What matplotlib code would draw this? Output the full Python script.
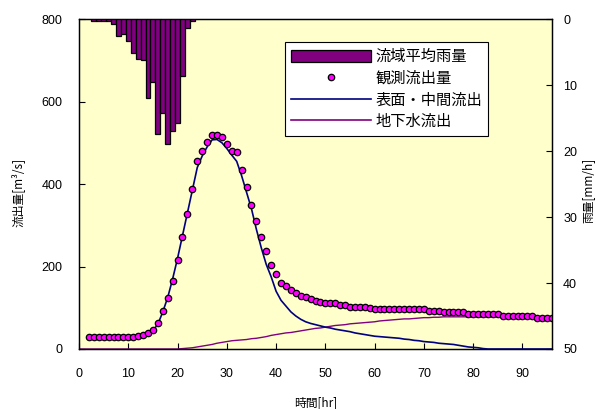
import matplotlib
matplotlib.use("Agg")
import matplotlib.pyplot as plt
import numpy as np
from matplotlib.patches import Patch
from matplotlib.lines import Line2D

jp = ['Noto Sans CJK JP', 'DejaVu Sans']
num = ['Liberation Sans', 'DejaVu Sans']

# 雨量 (mm/h)
rain_hr = list(range(3, 24))
rain = [0.3, 0.3, 0.3, 0.3, 0.8, 2.5, 2.3, 3.4, 5.2, 6.0, 6.2, 11.9, 9.6,
        17.4, 14.2, 19.0, 16.9, 15.8, 8.6, 1.4, 0.3]

# 観測流出量 (m3/s), 2..96 hr
obs_hr = list(range(2, 97))
obs = [29, 29, 29, 29, 29, 29, 29, 29, 29, 29,
       32, 33, 40, 46, 64, 93, 123, 166, 216, 272,
       327, 387, 455, 481, 503, 520, 520, 513, 497, 481,
       478, 435, 393, 349, 311, 272, 238, 204, 183, 161,
       153, 143, 135, 128, 125, 121, 116, 114, 111, 111,
       111, 107, 107, 101, 101, 101, 101, 99, 97, 97,
       97, 97, 97, 97, 97, 97, 97, 97, 97, 92,
       92, 92, 90, 90, 90, 90, 90, 86, 86, 86,
       86, 86, 86, 86, 81, 81, 81, 81, 81, 81,
       81, 76, 76, 76, 76]

# 表面・中間流出, 2..96 hr
surf_hr = list(range(2, 97))
surf = [29, 29, 29, 29, 29, 29, 29, 29, 29, 29,
        31, 33, 37, 45, 60, 90, 125, 170, 220, 275,
        330, 385, 440, 468, 490, 507, 508, 500, 486, 470,
        455, 420, 380, 340, 290, 245, 205, 175, 140, 118,
        104, 90, 80, 72, 66, 62, 59, 56, 53, 51,
        48, 46, 44, 42, 39, 37, 35, 33, 31, 30,
        29, 28, 27, 26, 24, 23, 21, 20, 18, 17,
        16, 14, 13, 12, 11, 9, 7, 5, 4, 3,
        1, 0, 0, 0, 0, 0, 0, 0, 0, 0,
        0, 0, 0, 0, 0]

# 地下水流出, 0..96 hr
gw_hr = list(range(0, 97))
gw = [0] * 21 + [1, 2, 3, 5, 7, 9, 11, 14, 16, 18,
                 20, 21, 22, 23, 25, 26, 28, 30, 33, 35,
                 37, 39, 40, 42, 44, 46, 48, 50, 51, 53,
                 55, 57, 58, 59, 61, 62, 63, 64, 65, 66,
                 68, 69, 70, 71, 72, 73, 73, 74, 75, 76,
                 76, 77, 77, 78, 78, 78, 78, 78, 78, 78,
                 78, 78, 78, 78, 78, 78, 78, 78, 78, 78,
                 78, 78, 78, 78, 78, 78]

fig = plt.figure(figsize=(5.96, 4.09), dpi=100)
ax = fig.add_axes([0.1326, 0.1467, 0.7936, 0.8068])
ax.set_facecolor('#FFFFCC')

ax.plot(gw_hr, gw, color='#800080', lw=1.0, zorder=2)
ax.plot(surf_hr, surf, color='#000080', lw=1.2, zorder=3)
ax.plot(obs_hr, obs, 'o', ms=4.6, mfc='#FF00FF', mec='black', mew=0.9, zorder=4)

ax.set_xlim(0, 96)
ax.set_ylim(0, 800)
ax.set_xticks(range(0, 91, 10))
ax.set_yticks(range(0, 801, 200))
ax.tick_params(axis='x', direction='in', length=4, pad=14, labelsize=9)
ax.tick_params(axis='y', direction='in', length=4, pad=12, labelsize=9)
for lab in ax.get_xticklabels() + ax.get_yticklabels():
    lab.set_family(num)

ax2 = ax.twinx()
ax2.bar(rain_hr, rain, width=1.0, color='#800080', edgecolor='black', lw=0.9, zorder=3)
ax2.set_ylim(50, 0)
ax2.set_yticks(range(0, 51, 10))
ax2.tick_params(axis='y', direction='in', length=4, pad=8, labelsize=9)
for lab in ax2.get_yticklabels():
    lab.set_family(num)

for a in (ax, ax2):
    for s in a.spines.values():
        s.set_linewidth(0.9)

fig.text(0.03, 0.53, '流出量[m³/s]', rotation=90, ha='center', va='center', fontsize=8.5, family=jp)
fig.text(0.986, 0.535, '雨量[mm/h]', rotation=90, ha='center', va='center', fontsize=8.5, family=jp)
fig.text(0.53, 0.015, '時間[hr]', ha='center', va='center', fontsize=8.5, family=jp)

handles = [Patch(facecolor='#800080', edgecolor='black', lw=0.9),
           Line2D([], [], ls='none', marker='o', ms=4.6, mfc='#FF00FF', mec='black', mew=0.9),
           Line2D([], [], color='#000080', lw=1.2),
           Line2D([], [], color='#800080', lw=1.2)]
labels = ['流域平均雨量', '観測流出量', '表面・中間流出', '地下水流出']
leg = ax2.legend(handles, labels, loc='upper left', bbox_to_anchor=(0.4355, 0.930),
                 borderaxespad=0, frameon=True, fancybox=False, framealpha=1,
                 edgecolor='black', prop={'family': jp, 'size': 11},
                 handlelength=5.2, handleheight=0.9, labelspacing=0.3,
                 handletextpad=0.3, borderpad=0.4)
leg.get_frame().set_linewidth(0.8)

fig.savefig('out.png', dpi=100)
